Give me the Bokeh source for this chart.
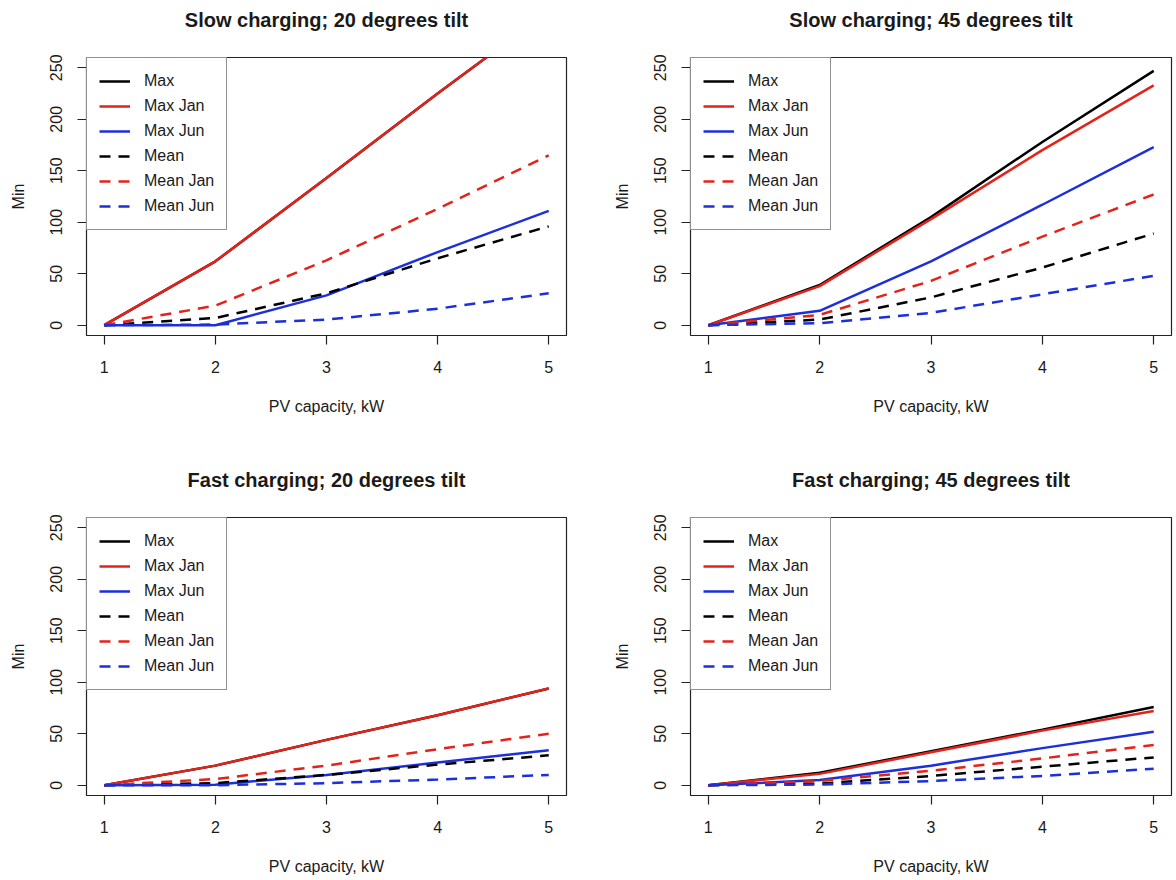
from bokeh.plotting import figure
from bokeh.layouts import column, row
from bokeh.models import Range1d, FixedTicker, Legend, LegendItem, LinearAxis
from bokeh.embed import file_html
from bokeh.resources import INLINE

# ---------------- data ----------------
pv_capacity = [1, 2, 3, 4, 5]
x_ticks = [1, 2, 3, 4, 5]
y_ticks = [0, 50, 100, 150, 200, 250]
series_names = ["Max", "Max Jan", "Max Jun", "Mean", "Mean Jan", "Mean Jun"]
panel_titles = ["Slow charging; 20 degrees tilt", "Slow charging; 45 degrees tilt",
                "Fast charging; 20 degrees tilt", "Fast charging; 45 degrees tilt"]

slow20_max = [0, 62, 143, 225, 305]
slow20_max_jan = [0, 62, 143, 225, 305]
slow20_max_jun = [0, 0, 29, 71, 111]
slow20_mean = [0, 7, 31, 65, 96]
slow20_mean_jan = [0, 19, 63, 113, 165]
slow20_mean_jun = [0, 0.6, 5.5, 16, 31]

slow45_max = [0, 39, 105, 178, 247]
slow45_max_jan = [0, 38, 103, 170, 233]
slow45_max_jun = [0, 14, 62, 117, 173]
slow45_mean = [0, 5.5, 27, 56, 89]
slow45_mean_jan = [0, 10, 43, 86, 127]
slow45_mean_jun = [0, 2, 12, 30, 48]

fast20_max = [0, 19, 44, 68, 94]
fast20_max_jan = [0, 19, 44, 68, 94]
fast20_max_jun = [0, 0.5, 10, 22, 34]
fast20_mean = [0, 2, 10, 20, 29]
fast20_mean_jan = [0, 6, 19, 35, 50]
fast20_mean_jun = [0, 0, 2, 5.5, 10]

fast45_max = [0, 12, 33, 54, 76]
fast45_max_jan = [0, 11, 32, 53, 72]
fast45_max_jun = [0, 5, 19, 36, 52]
fast45_mean = [0, 1.6, 9, 18, 27]
fast45_mean_jan = [0, 4, 14, 26, 39]
fast45_mean_jun = [0, 0.6, 4, 9, 16]

panels = [
    [slow20_max, slow20_max_jan, slow20_max_jun, slow20_mean, slow20_mean_jan, slow20_mean_jun],
    [slow45_max, slow45_max_jan, slow45_max_jun, slow45_mean, slow45_mean_jan, slow45_mean_jun],
    [fast20_max, fast20_max_jan, fast20_max_jun, fast20_mean, fast20_mean_jan, fast20_mean_jun],
    [fast45_max, fast45_max_jan, fast45_max_jun, fast45_mean, fast45_mean_jan, fast45_mean_jun],
]

# ---------------- styles ----------------
BLACK = "#000000"
RED = "#E3231B"
BLUE = "#1C2FDC"
colors = [BLACK, RED, BLUE, BLACK, RED, BLUE]
dashes = ["solid", "solid", "solid", "11 8", "11 8", "11 8"]
FONT = "Liberation Sans"
TXT = "#1a1a1a"

# figure geometry: (width, height, left, right, top, bottom)
geoms = [
    (588, 460, 86, 22, 57, 125),
    (588, 460, 102, 5, 57, 125),
    (588, 420, 86, 22, 57, 85),
    (588, 420, 102, 5, 57, 85),
]


def make_panel(title, series, geom):
    w, h, l, r, t, b = geom
    p = figure(width=w, height=h, output_backend="svg", toolbar_location=None,
               x_range=Range1d(0.84, 5.16), y_range=Range1d(-10, 260),
               min_border_left=l, min_border_right=r, min_border_top=t,
               min_border_bottom=b)
    p.grid.visible = False
    p.outline_line_color = "#222222"
    p.outline_line_width = 1.2
    p.background_fill_color = "white"
    p.border_fill_color = "white"

    xax = p.below[0]
    yax = p.left[0]
    xax.ticker = FixedTicker(ticks=x_ticks)
    yax.ticker = FixedTicker(ticks=y_ticks)
    xax.axis_label = "PV capacity, kW"
    yax.axis_label = "Min"
    yax.major_label_orientation = "vertical"
    for ax in (xax, yax):
        ax.axis_line_color = None
        ax.major_tick_out = 9
        ax.major_tick_in = 0
        ax.major_tick_line_color = "#222222"
        ax.major_tick_line_width = 1.2
        ax.minor_tick_line_color = None
        ax.major_label_text_font = FONT
        ax.major_label_text_font_size = "16px"
        ax.major_label_text_color = TXT
        ax.axis_label_text_font = FONT
        ax.axis_label_text_font_size = "16px"
        ax.axis_label_text_font_style = "normal"
        ax.axis_label_text_color = TXT
    xax.major_label_standoff = 16
    xax.axis_label_standoff = 22
    yax.major_label_standoff = 15
    yax.axis_label_standoff = 21

    # panel title drawn as the label of a tick-less axis above the frame
    top_axis = LinearAxis(ticker=FixedTicker(ticks=[]), axis_label=title)
    top_axis.axis_line_color = None
    top_axis.major_tick_out = 0
    top_axis.major_tick_in = 0
    top_axis.major_tick_line_color = None
    top_axis.minor_tick_line_color = None
    top_axis.major_label_standoff = 0
    top_axis.major_label_text_font_size = "0px"
    top_axis.axis_label_standoff = 27
    top_axis.axis_label_text_font = FONT
    top_axis.axis_label_text_font_size = "20px"
    top_axis.axis_label_text_font_style = "bold"
    top_axis.axis_label_text_color = TXT
    p.add_layout(top_axis, "above")

    items = []
    for name, ys, c, d in zip(series_names, series, colors, dashes):
        rr = p.line(pv_capacity, ys, line_color=c, line_width=2.5, line_dash=d)
        items.append(LegendItem(label=name, renderers=[rr]))

    leg = Legend(items=items, location="top_left", margin=0, padding=12,
                 spacing=3, glyph_width=31, glyph_height=22, label_height=22,
                 label_standoff=14, label_text_font=FONT,
                 label_text_font_size="16px", label_text_color=TXT,
                 border_line_color="#222222", border_line_width=1.2,
                 background_fill_color="white", background_fill_alpha=1.0)
    p.add_layout(leg, "center")
    return p


figs = [make_panel(t, s, g) for t, s, g in zip(panel_titles, panels, geoms)]
layout = column(row(figs[0], figs[1]), row(figs[2], figs[3]))

open("out.html", "w").write(file_html(layout, INLINE))
